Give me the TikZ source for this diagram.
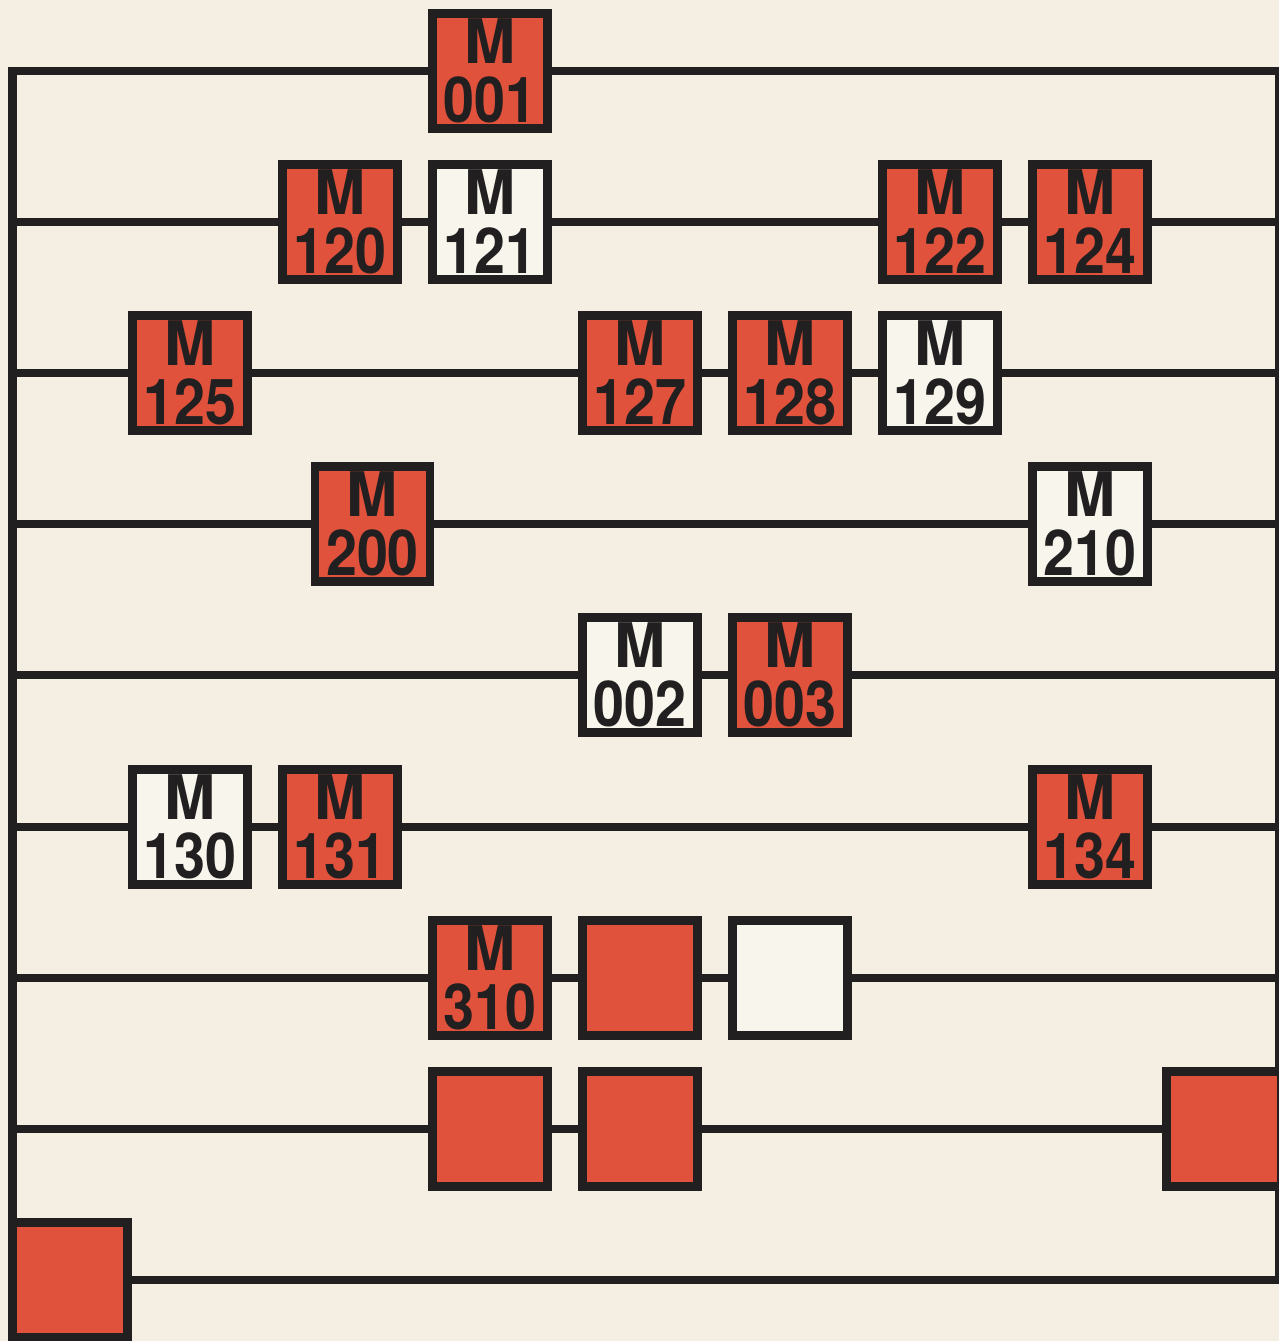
\documentclass[tikz,border=0pt]{standalone}
\usepackage{fontspec}
\setmainfont{TeX Gyre Heros}
\newfontfamily\numfont[FakeStretch=0.88]{TeX Gyre Heros}
\newcommand{\mcode}[1]{M\\{\numfont\fontsize{36}{33.5}\selectfont\bfseries #1}}
\definecolor{paper}{RGB}{244,239,226}
\definecolor{signal}{RGB}{224,82,60}
\definecolor{card}{RGB}{248,245,237}
\definecolor{ink}{RGB}{34,31,32}
\tikzset{
  wire/.style={draw=ink, line width=1.75mm, line cap=rect},
  redbox/.style={draw=ink, line width=1.7mm, fill=signal, minimum size=23mm, inner sep=0pt,
      align=center, text=ink, font=\fontsize{35}{33.5}\selectfont\bfseries},
  whitebox/.style={redbox, fill=card},
}

\begin{document}
\begin{tikzpicture}[scale=1.0]
  \path[use as bounding box, fill=paper] (0,0) rectangle (25.58,26.82);
  % rail ends
  \coordinate (L1) at (0.25,25.40);  \coordinate (R1) at (25.58,25.40);
  \coordinate (L2) at (0.25,22.38);  \coordinate (R2) at (25.58,22.38);
  \coordinate (L3) at (0.25,19.36);  \coordinate (R3) at (25.58,19.36);
  \coordinate (L4) at (0.25,16.34);  \coordinate (R4) at (25.58,16.34);
  \coordinate (L5) at (0.25,13.32);  \coordinate (R5) at (25.58,13.32);
  \coordinate (L6) at (0.25,10.28);  \coordinate (R6) at (25.58,10.28);
  \coordinate (L7) at (0.25,7.26);   \coordinate (R7) at (25.58,7.26);
  \coordinate (L8) at (0.25,4.24);   \coordinate (R8) at (25.58,4.24);
  \coordinate (L9) at (0.25,1.22);   \coordinate (R9) at (25.58,1.22);
  \draw[wire] (L9) -- (L1);
  \draw[wire] (R1) -- (R9);
  % boxes
  \node[redbox] (m001) at (9.8,25.40) {\mcode{001}};
  \node[redbox] (m120) at (6.8,22.38) {\mcode{120}};
  \node[whitebox] (m121) at (9.8,22.38) {\mcode{121}};
  \node[redbox] (m122) at (18.8,22.38) {\mcode{122}};
  \node[redbox] (m124) at (21.8,22.38) {\mcode{124}};
  \node[redbox] (m125) at (3.8,19.36) {\mcode{125}};
  \node[redbox] (m127) at (12.8,19.36) {\mcode{127}};
  \node[redbox] (m128) at (15.8,19.36) {\mcode{128}};
  \node[whitebox] (m129) at (18.8,19.36) {\mcode{129}};
  \node[redbox] (m200) at (7.45,16.34) {\mcode{200}};
  \node[whitebox] (m210) at (21.8,16.34) {\mcode{210}};
  \node[whitebox] (m002) at (12.8,13.32) {\mcode{002}};
  \node[redbox] (m003) at (15.8,13.32) {\mcode{003}};
  \node[whitebox] (m130) at (3.8,10.28) {\mcode{130}};
  \node[redbox] (m131) at (6.8,10.28) {\mcode{131}};
  \node[redbox] (m134) at (21.8,10.28) {\mcode{134}};
  \node[redbox] (m310) at (9.8,7.26) {\mcode{310}};
  \node[redbox] (b7a) at (12.8,7.26) {};
  \node[whitebox] (b7b) at (15.8,7.26) {};
  \node[redbox] (b8a) at (9.8,4.24) {};
  \node[redbox] (b8b) at (12.8,4.24) {};
  \node[redbox] (b8c) at (24.475,4.24) {};
  \node[redbox] (b9) at (1.40,1.22) {};
  % rails
  \draw[wire] (L1) -- (m001) -- (R1);
  \draw[wire] (L2) -- (m120) -- (m121) -- (m122) -- (m124) -- (R2);
  \draw[wire] (L3) -- (m125) -- (m127) -- (m128) -- (m129) -- (R3);
  \draw[wire] (L4) -- (m200) -- (m210) -- (R4);
  \draw[wire] (L5) -- (m002) -- (m003) -- (R5);
  \draw[wire] (L6) -- (m130) -- (m131) -- (m134) -- (R6);
  \draw[wire] (L7) -- (m310) -- (b7a) -- (b7b) -- (R7);
  \draw[wire] (L8) -- (b8a) -- (b8b) -- (b8c);
  \draw[wire] (b9) -- (R9);
\end{tikzpicture}
\end{document}
